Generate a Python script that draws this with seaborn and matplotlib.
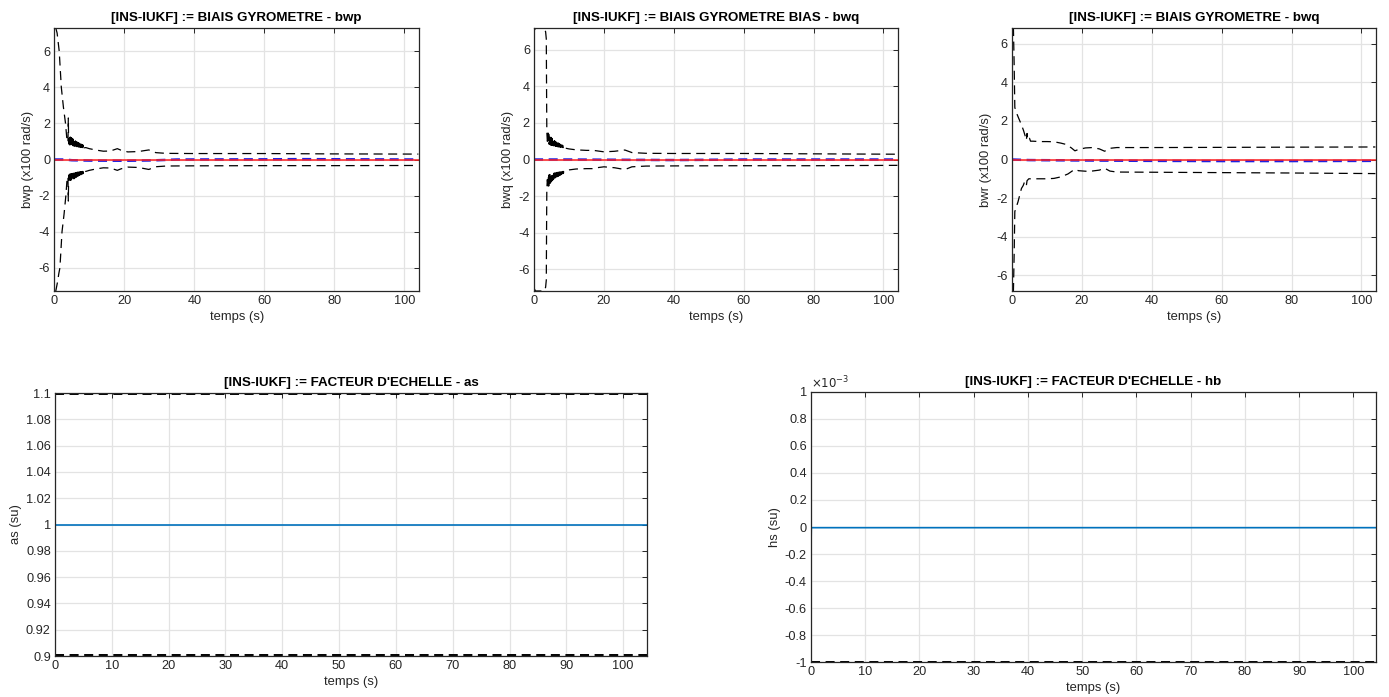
import numpy as np
import pandas as pd
import seaborn as sns
import matplotlib.pyplot as plt
from matplotlib.ticker import FuncFormatter

# --- donnees --------------------------------------------------------------
# enveloppes +/- 3 sigma (x100 rad/s) et erreurs d'estimation

# instants de la zone d'oscillation (t = 4.2 .. 8.5 s)
osc_t = [4.2, 4.3, 4.4, 4.5, 4.6, 4.7, 4.8, 4.9, 5.0, 5.1, 5.2, 5.3, 5.4, 5.5,
         5.6, 5.7, 5.8, 5.9, 6.0, 6.1, 6.2, 6.3, 6.4, 6.5, 6.6, 6.7, 6.8, 6.9,
         7.0, 7.1, 7.2, 7.3, 7.4, 7.5, 7.6, 7.7, 7.8, 7.9, 8.0, 8.1, 8.2, 8.3,
         8.4, 8.5]

bwp_t_up = [0.4, 0.8, 1.1, 1.4, 1.7, 2.0, 2.6, 3.2, 3.6, 3.9, 4.0, 4.1] + osc_t + \
           [9.0, 10, 12, 14, 16, 18, 19, 21, 24, 27, 29, 32, 40, 60, 80, 104]
bwp_up = [7.3, 7.0, 6.5, 6.0, 5.0, 4.0, 2.9, 2.0, 1.1, 0.95, 2.3, 0.9] + \
         [1.3, 0.82, 1.27, 0.81, 1.24, 0.8, 1.21, 0.79, 1.18, 0.78, 1.15, 0.77,
          1.12, 0.76, 1.09, 0.75, 1.06, 0.74, 1.03, 0.73, 1.0, 0.72, 0.98, 0.71,
          0.96, 0.7, 0.94, 0.69, 0.92, 0.68, 0.9, 0.68, 0.88, 0.67, 0.86, 0.67,
          0.84, 0.66, 0.82, 0.66, 0.8, 0.65, 0.78, 0.65] + \
         [0.66, 0.6, 0.52, 0.46, 0.47, 0.6, 0.52, 0.42, 0.44, 0.53, 0.38, 0.34,
          0.33, 0.33, 0.31, 0.3]
bwp_t_lo = [0.4, 0.9, 1.3, 1.6, 2.2, 2.8, 3.3, 3.6, 3.9, 4.0, 4.1] + osc_t + \
           [9.0, 10, 12, 14, 16, 18, 19, 21, 24, 27, 29, 32, 40, 60, 80, 104]
bwp_lo = [-7.3, -6.8, -6.3, -6.0, -4.0, -3.0, -2.0, -1.2, -0.95, -2.3, -0.9] + \
         [-1.28, -0.82, -1.25, -0.81, -1.22, -0.8, -1.19, -0.79, -1.16, -0.78,
          -1.13, -0.77, -1.1, -0.76, -1.07, -0.75, -1.04, -0.74, -1.01, -0.73,
          -0.98, -0.72, -0.96, -0.71, -0.94, -0.7, -0.92, -0.69, -0.9, -0.68,
          -0.88, -0.68, -0.86, -0.67, -0.84, -0.67, -0.82, -0.66, -0.8, -0.66,
          -0.78, -0.65, -0.76, -0.65] + \
         [-0.66, -0.6, -0.52, -0.46, -0.47, -0.6, -0.52, -0.42, -0.44, -0.55,
          -0.4, -0.36, -0.35, -0.34, -0.34, -0.33]
bwp_t_est = [0, 3, 5, 10, 20, 28, 35, 60, 70, 104]
bwp_est = [0.0, 0.0, -0.04, -0.06, -0.07, -0.05, 0.0, 0.01, 0.02, 0.0]

bwq_t_up = [0.0, 0.4, 2.8, 3.3, 3.5, 3.6, 3.65, 3.8, 4.0, 4.1] + osc_t + \
           [9.0, 10, 12, 15, 17, 20, 23, 26, 28, 32, 40, 60, 80, 104]
bwq_up = [7.05, 7.2, 7.2, 7.0, 6.6, 3.0, 1.5, 1.0, 1.45, 0.9] + \
         [1.38, 0.84, 1.32, 0.82, 1.27, 0.8, 1.22, 0.79, 1.18, 0.78, 1.14, 0.77,
          1.1, 0.76, 1.06, 0.75, 1.03, 0.74, 1.0, 0.73, 0.97, 0.72, 0.95, 0.71,
          0.93, 0.7, 0.91, 0.69, 0.89, 0.68, 0.87, 0.68, 0.85, 0.67, 0.83, 0.67,
          0.81, 0.66, 0.79, 0.66, 0.77, 0.65, 0.75, 0.64] + \
         [0.62, 0.58, 0.53, 0.5, 0.5, 0.42, 0.45, 0.52, 0.38, 0.34, 0.33, 0.33,
          0.31, 0.29]
bwq_t_lo = [0.0, 0.4, 2.8, 3.3, 3.5, 3.6, 3.65, 3.8, 4.0, 4.1] + osc_t + \
           [9.0, 10, 12, 15, 17, 18, 20, 23, 26, 28, 32, 40, 60, 80, 104]
bwq_lo = [-7.05, -7.2, -7.2, -7.0, -6.6, -3.0, -1.6, -1.1, -1.5, -0.9] + \
         [-1.45, -0.84, -1.38, -0.82, -1.3, -0.8, -1.24, -0.79, -1.19, -0.78,
          -1.15, -0.77, -1.11, -0.76, -1.07, -0.75, -1.04, -0.74, -1.01, -0.73,
          -0.98, -0.72, -0.96, -0.71, -0.94, -0.7, -0.92, -0.69, -0.9, -0.68,
          -0.88, -0.68, -0.86, -0.67, -0.84, -0.67, -0.82, -0.66, -0.8, -0.66,
          -0.78, -0.65, -0.76, -0.64] + \
         [-0.62, -0.57, -0.52, -0.5, -0.5, -0.45, -0.4, -0.45, -0.55, -0.4,
          -0.36, -0.35, -0.34, -0.34, -0.32]
bwq_t_est = [0, 10, 30, 40, 60, 104]
bwq_est = [0.0, 0.0, -0.02, -0.03, 0.0, 0.0]

bwr_t_up = [0.0, 0.4, 0.6, 0.8, 1.2, 2.0, 2.7, 3.3, 3.8, 4.1, 4.3, 4.5, 5.0,
            5.3, 6, 8, 10, 12, 14, 15.5, 17, 18, 19, 21, 23, 25, 26.5, 28, 30,
            40, 60, 80, 104]
bwr_up = [6.8, 6.8, 5.0, 2.7, 2.45, 2.1, 1.8, 1.5, 1.2, 1.0, 1.35, 1.0, 1.1,
          0.95, 0.95, 0.93, 0.93, 0.92, 0.85, 0.78, 0.6, 0.45, 0.52, 0.6, 0.62,
          0.55, 0.43, 0.58, 0.62, 0.62, 0.63, 0.64, 0.65]
bwr_t_lo = [0.0, 0.4, 0.6, 0.8, 1.7, 2.7, 3.2, 3.6, 4.1, 4.3, 4.8, 6, 8, 10,
            12, 14, 16, 18, 19, 22, 25, 26.5, 28, 30, 40, 60, 80, 104]
bwr_lo = [-6.8, -6.8, -5.0, -2.7, -2.2, -1.5, -1.35, -1.15, -1.35, -1.1, -1.0,
          -1.0, -1.0, -1.0, -0.98, -0.9, -0.75, -0.5, -0.58, -0.62, -0.55,
          -0.45, -0.6, -0.65, -0.66, -0.68, -0.7, -0.73]
bwr_t_est = [0, 5, 20, 40, 60, 80, 104]
bwr_est = [0.0, -0.03, -0.05, -0.07, -0.08, -0.08, -0.07]

# facteurs d'echelle
t_scale = [0, 104.2]
as_est = [1.0, 1.0]
as_up = [1.0995, 1.0995]
as_lo = [0.9005, 0.9005]

hs_t_est = [0, 0.05, 104.2]
hs_est = [-0.13e-3, -0.005e-3, -0.005e-3]
hs_up = [0.999e-3, 0.999e-3]
hs_lo = [-0.999e-3, -0.999e-3]

# --- style ----------------------------------------------------------------
sns.set_theme(style="white")
plt.rcParams['font.family'] = ['Liberation Sans', 'DejaVu Sans']
plt.rcParams['axes.unicode_minus'] = False
plt.rcParams['lines.scale_dashes'] = False

TXT = '#262626'
GRID = '#e3e3e3'
DASH = (0, (6.5, 4))
MBLUE = '#0072BD'

fig = plt.figure(figsize=(13.89, 6.97), dpi=100)


def style_axes(ax, title, ylabel, xticks):
    ax.set_title(title, fontsize=9.6, fontweight='bold', color='black', pad=5)
    ax.set_xlabel('temps (s)', fontsize=9.4, color=TXT, labelpad=3)
    ax.set_ylabel(ylabel, fontsize=9.4, color=TXT, labelpad=3)
    ax.set_xticks(xticks)
    ax.grid(True, color=GRID, linewidth=0.9)
    ax.set_axisbelow(True)
    ax.tick_params(direction='in', top=True, right=True, length=3.5,
                   width=0.7, labelsize=9.2, colors=TXT, pad=3)
    for sp in ax.spines.values():
        sp.set_color(TXT)
        sp.set_linewidth(0.9)


def line(ax, t, v, **kw):
    sns.lineplot(x=t, y=v, ax=ax, estimator=None, sort=False, **kw)


top = [
    ([0.0391, 0.5825, 0.2626, 0.3773], '[INS-IUKF] := BIAIS GYROMETRE - bwp',
     'bwp (x100 rad/s)', bwp_t_up, bwp_up, bwp_t_lo, bwp_lo, bwp_t_est, bwp_est, 7.28),
    ([0.3845, 0.5825, 0.2621, 0.3773], '[INS-IUKF] := BIAIS GYROMETRE BIAS - bwq',
     'bwq (x100 rad/s)', bwq_t_up, bwq_up, bwq_t_lo, bwq_lo, bwq_t_est, bwq_est, 7.2),
    ([0.7286, 0.5825, 0.2621, 0.3773], '[INS-IUKF] := BIAIS GYROMETRE - bwq',
     'bwr (x100 rad/s)', bwr_t_up, bwr_up, bwr_t_lo, bwr_lo, bwr_t_est, bwr_est, 6.82),
]

for pos, title, ylab, tu, vu, tl, vl, te, ve, lim in top:
    ax = fig.add_axes(pos)
    line(ax, tu, vu, color='black', linewidth=0.9, linestyle=DASH)
    line(ax, tl, vl, color='black', linewidth=0.9, linestyle=DASH)
    line(ax, te, ve, color='#2020e0', linewidth=1.8, linestyle=DASH)
    line(ax, t_scale, [0, 0], color='#ff2020', linewidth=1.3, alpha=0.85)
    ax.set_xlim(0, 104.2)
    ax.set_ylim(-lim, lim)
    ax.set_yticks([-6, -4, -2, 0, 2, 4, 6])
    style_axes(ax, title, ylab, [0, 20, 40, 60, 80, 100])

# facteur d'echelle as
ax = fig.add_axes([0.0396, 0.0588, 0.4262, 0.3773])
line(ax, t_scale, as_up, color='black', linewidth=1.4, linestyle=DASH)
line(ax, t_scale, as_lo, color='black', linewidth=1.4, linestyle=DASH)
line(ax, t_scale, as_est, color=MBLUE, linewidth=1.2)
ax.set_xlim(0, 104.2)
ax.set_ylim(0.9, 1.1)
ax.set_yticks([0.9, 0.92, 0.94, 0.96, 0.98, 1.0, 1.02, 1.04, 1.06, 1.08, 1.1])
ax.yaxis.set_major_formatter(FuncFormatter(lambda v, p: '%g' % round(v, 2)))
style_axes(ax, "[INS-IUKF] := FACTEUR D'ECHELLE - as", 'as (su)',
           [0, 10, 20, 30, 40, 50, 60, 70, 80, 90, 100])

# facteur d'echelle hs
ax = fig.add_axes([0.5839, 0.0502, 0.4068, 0.3874])
line(ax, t_scale, hs_up, color='black', linewidth=1.4, linestyle=DASH)
line(ax, t_scale, hs_lo, color='black', linewidth=1.4, linestyle=DASH)
line(ax, hs_t_est, hs_est, color=MBLUE, linewidth=1.2)
ax.set_xlim(0, 104.2)
ax.set_ylim(-1e-3, 1e-3)
ax.set_yticks([k * 0.2e-3 for k in range(-5, 6)])
ax.yaxis.set_major_formatter(FuncFormatter(lambda v, p: '%g' % round(v * 1e3, 1)))
style_axes(ax, "[INS-IUKF] := FACTEUR D'ECHELLE - hb", 'hs (su)',
           [0, 10, 20, 30, 40, 50, 60, 70, 80, 90, 100])
ax.text(0.0, 1.004, r'$\times10^{-3}$', transform=ax.transAxes, ha='left',
        va='bottom', fontsize=8.5, color=TXT)

fig.savefig('out.png', dpi=100)
